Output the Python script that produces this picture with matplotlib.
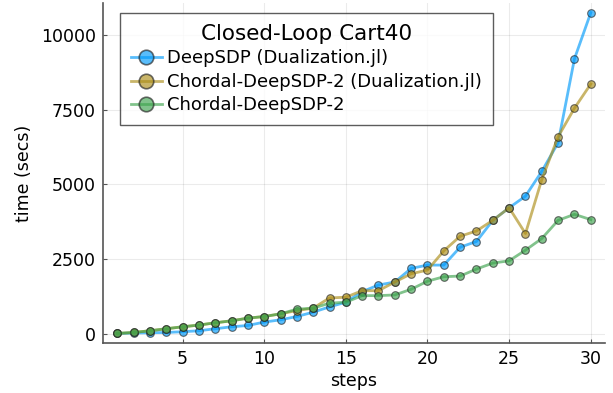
import numpy as np
import matplotlib as mpl
from matplotlib import pyplot as plt

steps = list(range(1, 31))

deepsdp_dual = [10, 23, 33, 43, 67, 100, 167, 233, 277, 390,
                467, 577, 723, 900, 1057, 1410, 1633, 1733, 2190, 2300,
                2300, 2900, 3090, 3800, 4220, 4610, 5440, 6400, 9210, 10757]
chordal_dual = [10, 43, 100, 167, 233, 290, 367, 433, 523, 577,
                667, 777, 857, 1200, 1223, 1443, 1443, 1733, 2010, 2133,
                2777, 3267, 3443, 3800, 4220, 3357, 5167, 6600, 7557, 8367]
chordal = [10, 43, 100, 167, 233, 290, 367, 433, 523, 577,
           667, 823, 857, 1023, 1057, 1277, 1277, 1300, 1490, 1760,
           1910, 1933, 2167, 2367, 2443, 2800, 3190, 3800, 4000, 3823]

series = [
    ("DeepSDP (Dualization.jl)", deepsdp_dual, "#009AFA"),
    ("Chordal-DeepSDP-2 (Dualization.jl)", chordal_dual, "#AC8E18"),
    ("Chordal-DeepSDP-2", chordal, "#3EA44E"),
]

mpl.rcParams['font.family'] = 'DejaVu Sans'

fig = plt.figure(figsize=(6.13, 3.93), dpi=100)
ax = fig.add_axes([103 / 613, 50 / 393, 502 / 613, 340 / 393])

for label, values, color in series:
    ax.plot(steps, values, color=color, alpha=0.65, linewidth=2,
            marker='o', markersize=5.5, markerfacecolor=color,
            markeredgecolor='#222222', markeredgewidth=0.8, label=label)

ax.set_xlim(0.13, 30.87)
ax.set_ylim(-310, 11080)
ax.set_xticks([5, 10, 15, 20, 25, 30])
ax.set_yticks([0, 2500, 5000, 7500, 10000])
ax.set_xlabel("steps", fontsize=12.5, labelpad=3)
ax.set_ylabel("time (secs)", fontsize=12.5, labelpad=6)
ax.tick_params(direction='in', labelsize=12.5, color='#555555', length=3, pad=5)
ax.grid(True, color='#000000', alpha=0.08, linewidth=0.8)
for side in ['top', 'right']:
    ax.spines[side].set_visible(False)
for side in ['left', 'bottom']:
    ax.spines[side].set_color('#555555')
    ax.spines[side].set_linewidth(1.2)

leg = ax.legend(loc='upper left', bbox_to_anchor=(0.034, 0.97),
                title="Closed-Loop Cart40", title_fontsize=15.5, fontsize=13,
                frameon=True, fancybox=False, edgecolor='#333333',
                markerscale=1.9, handlelength=1.7, handletextpad=0.3,
                labelspacing=0.3, borderpad=0.6, borderaxespad=0)
leg.get_frame().set_linewidth(1.0)
for h in leg.legend_handles:
    h.set_markeredgewidth(1.2)

fig.savefig("out.png", dpi=100)
